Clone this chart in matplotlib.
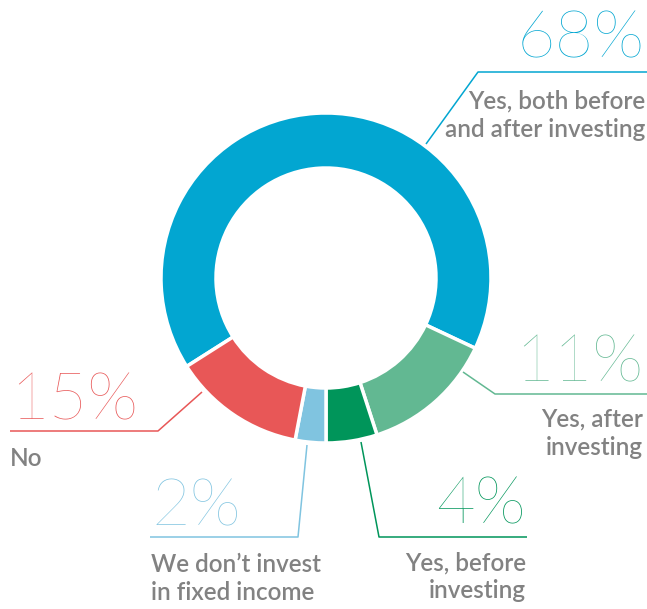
import matplotlib.pyplot as plt

# values as labelled, and the arc sizes as drawn in the original graphic
pct_values = [68, 11, 4, 2, 15]
arc_share = [66, 13, 5, 3, 13]
answers = [
    "Yes, both before\nand after investing",
    "Yes, after\ninvesting",
    "Yes, before\ninvesting",
    "We don\u2019t invest\nin fixed income",
    "No",
]
colors = ["#02a6d1", "#62b892", "#00955a", "#80c4e0", "#e85757"]

W, H = 647, 609
fig = plt.figure(figsize=(W / 100, H / 100), dpi=100)
ax = fig.add_axes([0, 0, 1, 1])

cx, cy = 326, H - 278
ax.pie(arc_share, colors=colors, startangle=212.4, counterclock=False,
       radius=165, center=(cx, cy),
       wedgeprops=dict(width=55, edgecolor="white", linewidth=2.5))

# label layout in pixel coords (y from top): anchor x, ha, pct baseline,
# leader line points, text baselines
layout = [
    (645, "right", 58, [(426, 144), (478, 72), (647, 72)], [108, 137]),
    (643, "right", 381, [(463, 372), (495, 394), (647, 394)], [427, 455]),
    (526, "right", 523, [(361, 442), (379, 537), (527, 537)], [571, 598]),
    (151, "left", 525, [(307, 445), (298, 537), (150, 537)], [572, 600]),
    (10, "left", 420, [(202, 392), (158, 431), (10, 431)], [466]),
]

for val, text, col, (x, ha, yb, pts, tb) in zip(pct_values, answers, colors, layout):
    xs = [p[0] for p in pts]
    ys = [H - p[1] for p in pts]
    ax.plot(xs, ys, color=col, lw=1.1, solid_capstyle="butt")
    ax.text(x, H - yb, f"{val}%", ha=ha, va="baseline", color=col,
            fontsize=48, family="Lato", fontweight=100)
    for line, b in zip(text.split("\n"), tb):
        ax.text(x, H - b, line, ha=ha, va="baseline", color="#828282",
                fontsize=17.5, family="Lato", fontweight="semibold")

ax.set_xlim(0, W)
ax.set_ylim(0, H)
ax.set_aspect("auto")
ax.axis("off")
fig.savefig("out.png", dpi=100)
